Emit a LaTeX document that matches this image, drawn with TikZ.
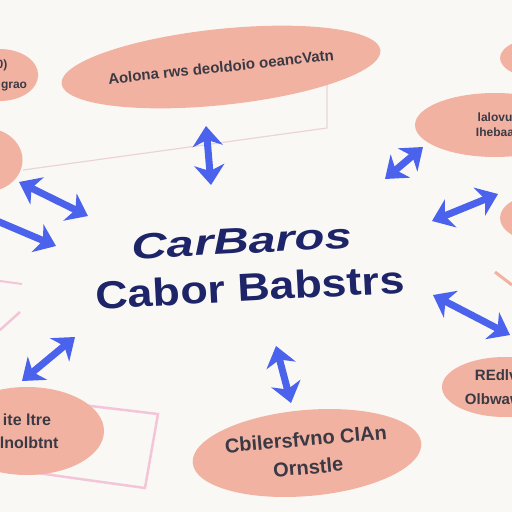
\documentclass[tikz,border=0pt]{standalone}
\usepackage{fontspec}
\setmainfont{Liberation Sans}
\usetikzlibrary{shapes.geometric,arrows.meta}
\definecolor{paper}{HTML}{FAF8F4}
\definecolor{salmon}{HTML}{F2B2A2}
\definecolor{arrowblue}{HTML}{4A62EC}
\definecolor{navy}{HTML}{1E2468}
\definecolor{inkgray}{HTML}{3B3A44}
\definecolor{pinkline}{HTML}{F2C6D8}
\definecolor{faintline}{HTML}{EBD3DA}
\begin{document}
\begin{tikzpicture}[x=1pt,y=-1pt,
        bubble/.style={ellipse,fill=salmon,inner sep=0pt,text=inkgray,align=center},
        dblarrow/.style={arrowblue,line width=7pt,{Stealth[length=20pt,width=30pt,inset=6pt]}-{Stealth[length=20pt,width=30pt,inset=6pt]}},
        sglarrow/.style={arrowblue,line width=7pt,-{Stealth[length=20pt,width=30pt,inset=6pt]}}]
        \fill[paper] (0,0) rectangle (512,512);
        \useasboundingbox (0,0) rectangle (512,512);
        \clip (0,0) rectangle (512,512);

        % faint lines behind the bubbles
        \draw[faintline,line width=1.2pt] (23,170) -- (327,128) -- (327,83);
        \draw[pinkline,line width=2.5pt] (40,400) -- (158,414) -- (145,488) -- (30,472) -- cycle;
        \draw[pinkline,line width=2pt] (0,281) -- (22,284);
        \draw[pinkline,line width=2.5pt] (0,330) -- (20,312);
        \draw[salmon,line width=3pt] (495,272) -- (512,285);

        \node[bubble,minimum width=298pt,minimum height=76pt,rotate=6,
            font=\fontsize{15}{18}\selectfont\bfseries] (1) at (221,67)
            {Aolona rws deoldoio oeancVatn};
        \node[bubble,minimum width=75pt,minimum height=52pt,
            font=\fontsize{12}{20}\selectfont\bfseries] (2) at (0,75) {(0)\\ oneligrao};
        \node[bubble,minimum width=75pt,minimum height=64pt] (3) at (-15,160) {};
        \node[bubble,minimum width=90pt,minimum height=42pt] (4) at (545,58) {};
        \node[bubble,minimum width=160pt,minimum height=64pt,
            font=\fontsize{12}{15}\selectfont\bfseries] (5) at (495,125) {lalovu\\ Ihebaa};
        \node[bubble,minimum width=92pt,minimum height=50pt] (6) at (546,218) {};
        \node[bubble,minimum width=126pt,minimum height=60pt,
            font=\fontsize{15}{24}\selectfont\bfseries] (7) at (505,387) {REdlvbs\\ Olbwawww};
        \node[bubble,minimum width=154pt,minimum height=88pt,
            font=\fontsize{16}{23}\selectfont\bfseries] (8) at (27,431) {ite ltre\\ Ilnolbtnt};
        \node[bubble,minimum width=207pt,minimum height=86pt,rotate=5,
            font=\fontsize{20}{28}\selectfont\bfseries] (9) at (307,453) {Cbilersfvno CIAn\\ Ornstle};

        \node[navy,rotate=3,xscale=1.36,font=\fontsize{36}{40}\selectfont\bfseries\itshape]
            (10) at (242,241) {CarBaros};
        \node[navy,rotate=3,xscale=1.15,font=\fontsize{39}{44}\selectfont\bfseries]
            (11) at (250,287) {Cabor Babstrs};

        % arrow ends
        \coordinate (a1) at (206,126); \coordinate (b1) at (211,185);
        \coordinate (a2) at (19,182);  \coordinate (b2) at (88,216);
        \coordinate (a3) at (385,179); \coordinate (b3) at (423,147);
        \coordinate (a4) at (432,221); \coordinate (b4) at (498,194);
        \coordinate (a5) at (433,295); \coordinate (b5) at (510,335);
        \coordinate (a6) at (22,381);  \coordinate (b6) at (75,337);
        \coordinate (a7) at (276,346); \coordinate (b7) at (291,403);
        \coordinate (a8) at (-10,218); \coordinate (b8) at (56,246);

        \foreach \from / \to in {a1/b1,a2/b2,a3/b3,a4/b4,a5/b5,a6/b6,a7/b7}
            \draw[dblarrow] (\from) -- (\to);
        \draw[sglarrow] (a8) -- (b8);
\end{tikzpicture}
\end{document}
